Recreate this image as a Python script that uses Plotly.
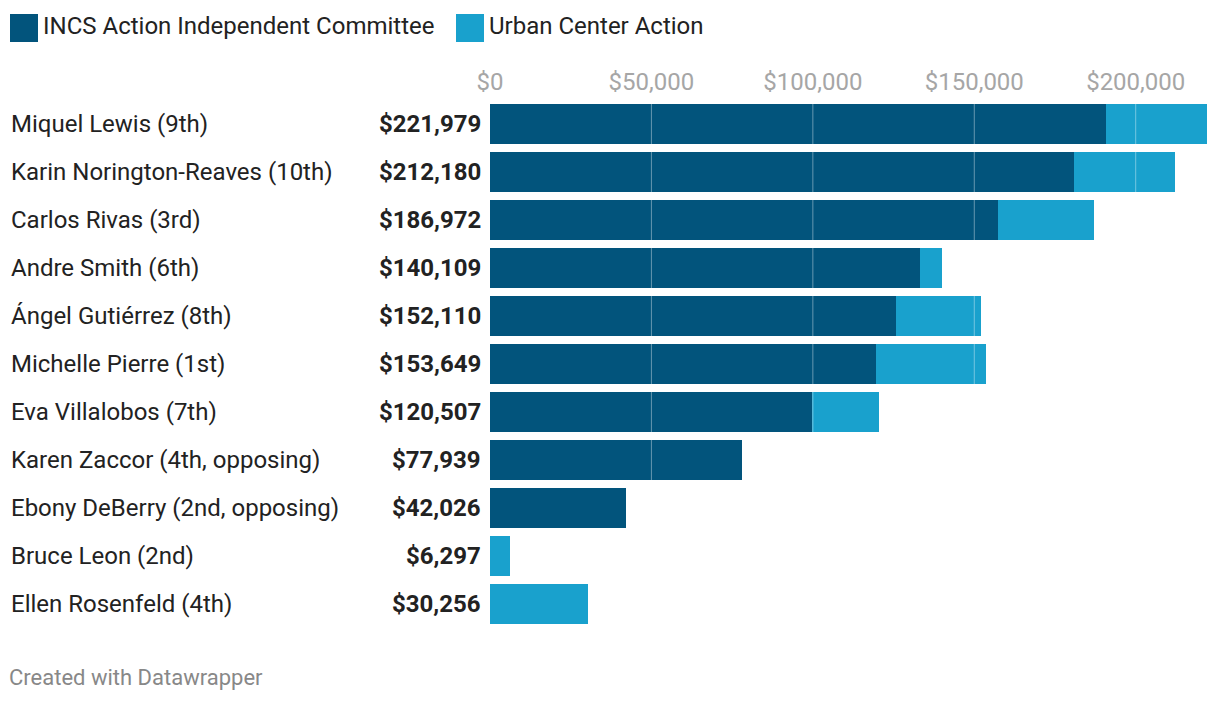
import plotly.graph_objects as go

candidates = [
    "Miquel Lewis (9th)",
    "Karin Norington-Reaves (10th)",
    "Carlos Rivas (3rd)",
    "Andre Smith (6th)",
    "Ángel Gutiérrez (8th)",
    "Michelle Pierre (1st)",
    "Eva Villalobos (7th)",
    "Karen Zaccor (4th, opposing)",
    "Ebony DeBerry (2nd, opposing)",
    "Bruce Leon (2nd)",
    "Ellen Rosenfeld (4th)",
]
totals = [221979, 212180, 186972, 140109, 152110, 153649, 120507, 77939, 42026, 6297, 30256]
incs = [190775, 180865, 157328, 133171, 125738, 119544, 99723, 77939, 42026, 0, 0]
urban = [t - i for t, i in zip(totals, incs)]
series_names = ["INCS Action Independent Committee", "Urban Center Action"]
tick_values = [0, 50000, 100000, 150000, 200000]
tick_labels = ["$0", "$50,000", "$100,000", "$150,000", "$200,000"]

DARK = "#02547c"
LIGHT = "#19a1cd"
FONT = "Roboto"

W, H = 1220, 702
PLOT_L, PLOT_T, PLOT_B = 490, 100, 628

def px_x(x):
    return x / W

def px_y(y):
    return (PLOT_B - y) / (PLOT_B - PLOT_T)

fig = go.Figure()
fig.add_trace(go.Bar(y=candidates, x=incs, orientation="h", name=series_names[0],
                     marker=dict(color=DARK, line=dict(width=0)), showlegend=False))
fig.add_trace(go.Bar(y=candidates, x=urban, orientation="h", name=series_names[1],
                     marker=dict(color=LIGHT, line=dict(width=0)), showlegend=False))

# gridlines over bars
for v in tick_values[1:]:
    fig.add_shape(type="line", xref="x", yref="paper", x0=v, x1=v, y0=0, y1=1,
                  line=dict(color="rgba(255,255,255,0.4)", width=1), layer="above")

annotations = []
for name, tot in zip(candidates, totals):
    annotations.append(dict(xref="paper", yref="y", x=px_x(9), y=name, text=name,
                            xanchor="left", yanchor="middle", showarrow=False,
                            font=dict(family=FONT, size=24, color="#222222")))
    annotations.append(dict(xref="paper", yref="y", x=px_x(483), y=name,
                            text="<b>$" + f"{tot:,}" + "</b>",
                            xanchor="right", yanchor="middle", showarrow=False,
                            font=dict(family=FONT, size=24, color="#222222")))

# custom legend
legend_items = [(series_names[0], DARK, 10), (series_names[1], LIGHT, 456)]
for name, col, x0 in legend_items:
    fig.add_shape(type="rect", xref="paper", yref="paper",
                  x0=px_x(x0), x1=px_x(x0 + 28), y0=px_y(42), y1=px_y(14),
                  fillcolor=col, line=dict(width=0))
    annotations.append(dict(xref="paper", yref="paper", x=px_x(x0 + 31), y=px_y(26),
                            text=name, xanchor="left", yanchor="middle", showarrow=False,
                            font=dict(family=FONT, size=24, color="#222222")))

annotations.append(dict(xref="paper", yref="paper", x=px_x(7), y=px_y(677),
                        text="Created with Datawrapper", xanchor="left", yanchor="middle",
                        showarrow=False, font=dict(family=FONT, size=22, color="#888888")))

x_max = (W - PLOT_L) / 645.7 * 200000

fig.update_layout(
    width=W, height=H,
    margin=dict(l=0, r=0, t=PLOT_T, b=H - PLOT_B, pad=0, autoexpand=False),
    barmode="stack", bargap=1 - 40 / 48,
    plot_bgcolor="white", paper_bgcolor="white",
    font=dict(family=FONT),
    xaxis=dict(domain=[px_x(PLOT_L), 1], range=[0, x_max], side="top", automargin=False,
               tickvals=tick_values, ticktext=tick_labels, ticklabelstandoff=4,
               showgrid=False, zeroline=False, showline=False, ticks="",
               tickfont=dict(family=FONT, size=24, color="#a6a6a6")),
    yaxis=dict(type="category", categoryarray=candidates, range=[10.5, -0.5],
               automargin=False,
               showticklabels=False, showgrid=False, zeroline=False, showline=False,
               ticks=""),
    annotations=annotations,
    showlegend=False,
)

fig.write_html("out.html", config={"displayModeBar": False},
               post_script="document.body.style.margin='0';")
